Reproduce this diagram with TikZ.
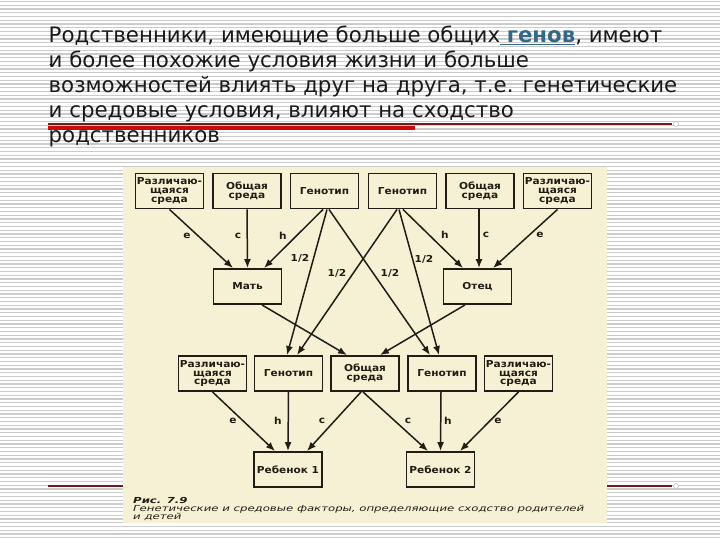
\documentclass[tikz,border=0pt]{standalone}
\usepackage{fontspec}
\setmainfont{DejaVu Sans}
\newfontfamily\boxfont[FakeStretch=1.1]{DejaVu Sans}
\newfontfamily\capfont[FakeStretch=1.41]{DejaVu Sans}
\usetikzlibrary{arrows.meta}
\definecolor{panel}{RGB}{246,241,213}
\definecolor{ink}{RGB}{35,28,20}
\definecolor{stripe}{RGB}{203,203,203}
\definecolor{link}{RGB}{52,104,134}
\definecolor{rulered}{RGB}{110,28,28}
\definecolor{hired}{RGB}{205,10,10}
\begin{document}
\begin{tikzpicture}[x=1pt,y=-1pt,
  box/.style={draw=ink, line width=1.9pt, minimum width=68pt, minimum height=35pt, inner sep=1pt, align=center, font=\boxfont\bfseries\fontsize{9.6}{8.8}\selectfont, text=ink},
  arr/.style={draw=ink, line width=1.5pt, -{Latex[length=9pt,width=7pt]}},
  lab/.style={font=\boxfont\bfseries\fontsize{9.6}{10}\selectfont, text=ink, inner sep=0pt},
  txt/.style={font=\fontsize{21.3}{25}\selectfont, anchor=base west, inner sep=0pt, text=black!90},
  capt/.style={font=\capfont\itshape\fontsize{8.3}{9}\selectfont, anchor=base west, inner sep=0pt, text=ink},
]
\useasboundingbox (0,0) rectangle (720,540);
\fill[white] (0,0) rectangle (720,540);
\foreach \i in {0,...,143} \draw[stripe, line width=1.2pt] (0,\i*3.75+1.5) -- (720,\i*3.75+1.5);
% slide rules
\draw[rulered, line width=1.3pt] (48,124) -- (672,124);
\draw[gray!50, fill=white, line width=0.6pt] (676,124) circle (2.5pt);
\draw[rulered, line width=1.3pt] (48,486) -- (672,486);
\draw[gray!50, fill=white, line width=0.6pt] (676,486) circle (2.5pt);
% panel
\fill[panel] (123,167) rectangle (607,523);
% heading text
\node[txt] (t1) at (48.5,43) {Родственники, имеющие больше общих{\color{link}\underline{ \textbf{генов}}}, имеют};
\node[txt] (t2) at (48.5,68) {и более похожие условия жизни и больше};
\node[txt] (t3) at (48.5,93) {возможностей влиять друг на друга, т.е. генетические};
\node[txt] (t4) at (48.5,118) {и средовые условия, влияют на сходство};
\node[txt] (t5) at (48.5,143) {родственников};
\fill[black] (50.5,64.5) circle (0.8pt);
\draw[hired, line width=4.5pt] (48,128) -- (415,128);
% top row
\node[box] (dl) at (169.5,191) {Различаю-\\щаяся\\среда};
\node[box] (cl) at (247,191) {Общая\\среда};
\node[box] (gl) at (324.5,191) {Генотип};
\node[box] (gr) at (402.5,191) {Генотип};
\node[box] (cr) at (480,191) {Общая\\среда};
\node[box] (dr) at (557.5,191) {Различаю-\\щаяся\\среда};
% parents
\node[box] (m) at (247.5,286.5) {Мать};
\node[box] (o) at (477.5,286.5) {Отец};
% child row
\node[box] (dl2) at (212.5,373.5) {Различаю-\\щаяся\\среда};
\node[box] (gl2) at (288.5,373.5) {Генотип};
\node[box] (cc) at (365,373.5) {Общая\\среда};
\node[box] (gr2) at (442,373.5) {Генотип};
\node[box] (dr2) at (518.5,373.5) {Различаю-\\щаяся\\среда};
% children
\node[box] (k1) at (288,469.5) {Ребенок 1};
\node[box] (k2) at (440.5,469.5) {Ребенок 2};
% arrows to mother
\draw[arr] (dl.south) -- ([xshift=-14.5pt]m.north);
\draw[arr] (cl.south) -- (m.north);
\draw[arr] ([xshift=-1.5pt]gl.south) -- ([xshift=16.5pt]m.north);
% arrows to father
\draw[arr] ([xshift=0.5pt]gr.south) -- ([xshift=-14.5pt]o.north);
\draw[arr] ([xshift=-1pt]cr.south) -- ([xshift=1.5pt]o.north);
\draw[arr] (dr.south) -- ([xshift=15.5pt]o.north);
% genotype transmission
\draw[arr] ([xshift=2.5pt]gl.south) -- ([xshift=-1.5pt]gl2.north);
\draw[arr] ([xshift=4.5pt]gl.south) -- ([xshift=-12pt]gr2.north);
\draw[arr] ([xshift=-5.5pt]gr.south) -- ([xshift=8.5pt]gl2.north);
\draw[arr] ([xshift=-3.5pt]gr.south) -- ([xshift=-3pt]gr2.north);
% parents to shared environment
\draw[arr] ([xshift=14.5pt]m.south) -- ([xshift=-18pt]cc.north);
\draw[arr] ([xshift=-12.5pt]o.south) -- ([xshift=15pt]cc.north);
% to children
\draw[arr] (dl2.south) -- ([xshift=-13pt]k1.north);
\draw[arr] (gl2.south) -- (k1.north);
\draw[arr] ([xshift=-4pt]cc.south) -- ([xshift=19pt]k1.north);
\draw[arr] ([xshift=-2pt]cc.south) -- ([xshift=-12.5pt]k2.north);
\draw[arr] ([xshift=-1pt]gr2.south) -- (k2.north);
\draw[arr] (dr2.south) -- ([xshift=19.5pt]k2.north);
% labels
\node[lab] (le1) at (187,236) {e};
\node[lab] (lc1) at (238,236) {c};
\node[lab] (lh1) at (283,236) {h};
\node[lab] (lh2) at (445,235) {h};
\node[lab] (lc2) at (486,235) {c};
\node[lab] (le2) at (540,235) {e};
\node[lab] (lq1) at (300,258) {1/2};
\node[lab] (lq2) at (337,273) {1/2};
\node[lab] (lq3) at (390,273) {1/2};
\node[lab] (lq4) at (424,259) {1/2};
\node[lab] (le3) at (233,421) {e};
\node[lab] (lh3) at (278,421) {h};
\node[lab] (lc3) at (322,421) {c};
\node[lab] (lc4) at (408,421) {c};
\node[lab] (lh4) at (448,421) {h};
\node[lab] (le4) at (498,421) {e};
% caption
\node[capt, font=\capfont\bfseries\itshape\fontsize{8.3}{9}\selectfont] (cap1) at (133,503) {Рис. 7.9};
\node[capt] (cap2) at (133,511.5) {Генетические и средовые факторы, определяющие сходство родителей};
\node[capt] (cap3) at (133,519.5) {и детей};
\end{tikzpicture}
\end{document}
